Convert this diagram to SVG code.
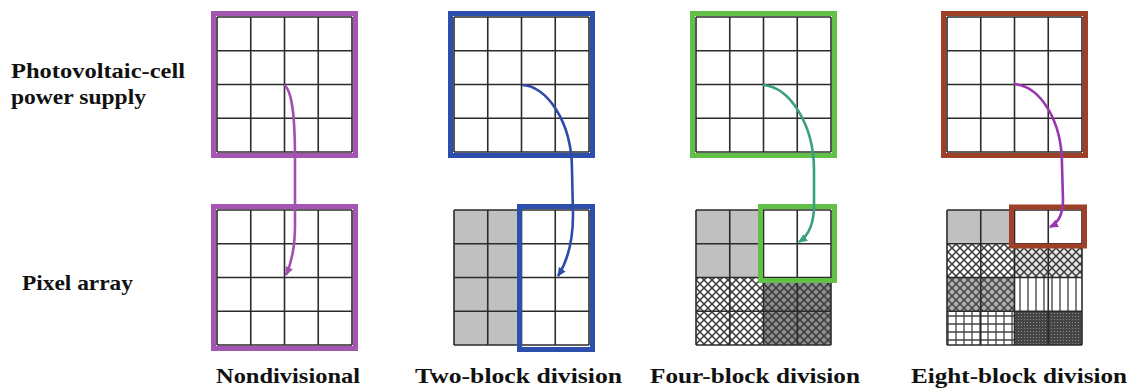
<svg xmlns="http://www.w3.org/2000/svg" width="1130" height="389" viewBox="0 0 1130 389">
<style>
.gl{fill:none;stroke:#2b2b2b;stroke-width:1.6}
.fr{fill:none;stroke-width:5}
.cn{fill:none;stroke-width:2.6}
</style>
<defs>
<path id="grid" class="gl" d="M0,0H135M0,33.75H135M0,67.5H135M0,101.25H135M0,135H135M0,0V135M33.75,0V135M67.5,0V135M101.25,0V135M135,0V135"/>
<pattern id="xw" width="8" height="8" patternUnits="userSpaceOnUse"><rect width="8" height="8" fill="#fff"/><path d="M-1,-1L9,9M9,-1L-1,9" stroke="#3a3a3a" stroke-width="1.5"/></pattern>
<pattern id="xl" width="8" height="8" patternUnits="userSpaceOnUse"><rect width="8" height="8" fill="#e6e6e6"/><path d="M-1,-1L9,9M9,-1L-1,9" stroke="#3a3a3a" stroke-width="1.5"/></pattern>
<pattern id="xg" width="8" height="8" patternUnits="userSpaceOnUse"><rect width="8" height="8" fill="#b0b0b0"/><path d="M-1,-1L9,9M9,-1L-1,9" stroke="#444" stroke-width="1.5"/></pattern>
<pattern id="xd" width="8" height="8" patternUnits="userSpaceOnUse"><rect width="8" height="8" fill="#8e8e8e"/><path d="M-1,-1L9,9M9,-1L-1,9" stroke="#3a3a3a" stroke-width="1.5"/></pattern>
<pattern id="vl" width="8" height="8" patternUnits="userSpaceOnUse"><rect width="8" height="8" fill="#fff"/><path d="M4,0V8" stroke="#555" stroke-width="1.5"/></pattern>
<pattern id="gp" width="8" height="8" patternUnits="userSpaceOnUse"><rect width="8" height="8" fill="#fff"/><path d="M4,0V8M0,4H8" stroke="#444" stroke-width="1.3"/></pattern>
<pattern id="dd" width="3" height="3" patternUnits="userSpaceOnUse"><rect width="3" height="3" fill="#444"/><circle cx="1.5" cy="1.5" r="0.6" fill="#999"/></pattern>
<marker id="a1" markerWidth="10" markerHeight="10" refX="8" refY="4" orient="auto" markerUnits="userSpaceOnUse"><path d="M0,0L9,4L0,8z" fill="#a24fb0"/></marker>
<marker id="a2" markerWidth="10" markerHeight="10" refX="8" refY="4" orient="auto" markerUnits="userSpaceOnUse"><path d="M0,0L9,4L0,8z" fill="#2f4aa8"/></marker>
<marker id="a3" markerWidth="10" markerHeight="10" refX="8" refY="4" orient="auto" markerUnits="userSpaceOnUse"><path d="M0,0L9,4L0,8z" fill="#3a9f80"/></marker>
<marker id="a4" markerWidth="10" markerHeight="10" refX="8" refY="4" orient="auto" markerUnits="userSpaceOnUse"><path d="M0,0L9,4L0,8z" fill="#9a35b0"/></marker>
</defs>
<rect width="1130" height="389" fill="#fff"/>

<g font-family="Liberation Serif, serif" font-weight="bold" font-size="21" fill="#111">
<g id="label-pv"><text x="11" y="78" textLength="174" lengthAdjust="spacingAndGlyphs">Photovoltaic-cell</text><text x="11" y="104" textLength="135" lengthAdjust="spacingAndGlyphs">power supply</text></g>
<g id="label-pixel"><text x="22" y="290" textLength="111" lengthAdjust="spacingAndGlyphs">Pixel array</text></g>
<g id="captions">
<text x="216" y="383" textLength="144" lengthAdjust="spacingAndGlyphs">Nondivisional</text>
<text x="415" y="383" textLength="207" lengthAdjust="spacingAndGlyphs">Two-block division</text>
<text x="650" y="383" textLength="210" lengthAdjust="spacingAndGlyphs">Four-block division</text>
<text x="911" y="383" textLength="216" lengthAdjust="spacingAndGlyphs">Eight-block division</text>
</g>
</g>

<g id="pv-1"><use href="#grid" x="217" y="17"/><rect class="fr" x="213.5" y="13.5" width="142" height="142" stroke="#a555b2"/></g>
<g id="pv-2"><use href="#grid" x="454" y="17"/><rect class="fr" x="450.5" y="13.5" width="142" height="142" stroke="#2c4fae"/></g>
<g id="pv-3"><use href="#grid" x="696" y="17"/><rect class="fr" x="692.5" y="13.5" width="142" height="142" stroke="#62bf48"/></g>
<g id="pv-4"><use href="#grid" x="947" y="17"/><rect class="fr" x="943.5" y="13.5" width="142" height="142" stroke="#9e3f28"/></g>

<g id="px-1"><use href="#grid" x="217" y="210"/><rect class="fr" x="213.5" y="206.5" width="142" height="142" stroke="#a555b2"/></g>
<g id="px-2"><rect x="454" y="210" width="67.5" height="135" fill="#c0c0c0"/><use href="#grid" x="454" y="210"/><rect class="fr" x="519.5" y="206.5" width="73" height="143" stroke="#2c4fae"/></g>
<g id="px-3"><rect x="696" y="210" width="67.5" height="67.5" fill="#c0c0c0"/><rect x="696" y="277.5" width="67.5" height="67.5" fill="url(#xw)"/><rect x="763.5" y="277.5" width="67.5" height="67.5" fill="url(#xd)"/><use href="#grid" x="696" y="210"/><rect class="fr" x="760.5" y="206.5" width="74" height="74" stroke="#62bf48"/></g>
<g id="px-4"><rect x="947" y="210" width="67.5" height="33.75" fill="#c0c0c0"/><rect x="947" y="243.75" width="67.5" height="33.75" fill="url(#xw)"/><rect x="1014.5" y="243.75" width="67.5" height="33.75" fill="url(#xl)"/><rect x="947" y="277.5" width="67.5" height="33.75" fill="url(#xg)"/><rect x="1014.5" y="277.5" width="67.5" height="33.75" fill="url(#vl)"/><rect x="947" y="311.25" width="67.5" height="33.75" fill="url(#gp)"/><rect x="1014.5" y="311.25" width="67.5" height="33.75" fill="url(#dd)"/><use href="#grid" x="947" y="210"/><rect class="fr" x="1011.5" y="207" width="73" height="39" stroke="#9e3f28"/></g>

<g id="connectors">
<path class="cn" stroke="#a24fb0" marker-end="url(#a1)" d="M284,85C292,90 295,115 295,160L295,225C295,250 291,264 286,275"/>
<path class="cn" stroke="#2f4aa8" marker-end="url(#a2)" d="M522,85C545,85 572,120 572,170L573,215C573,245 565,265 558,276"/>
<path class="cn" stroke="#3a9f80" marker-end="url(#a3)" d="M763,85C790,87 814,125 814,170L814,205C814,225 808,236 799,242"/>
<path class="cn" stroke="#9a35b0" marker-end="url(#a4)" d="M1014,84C1040,86 1062,120 1062,165L1063,200C1063,215 1058,223 1050,227"/>
</g>
</svg>
